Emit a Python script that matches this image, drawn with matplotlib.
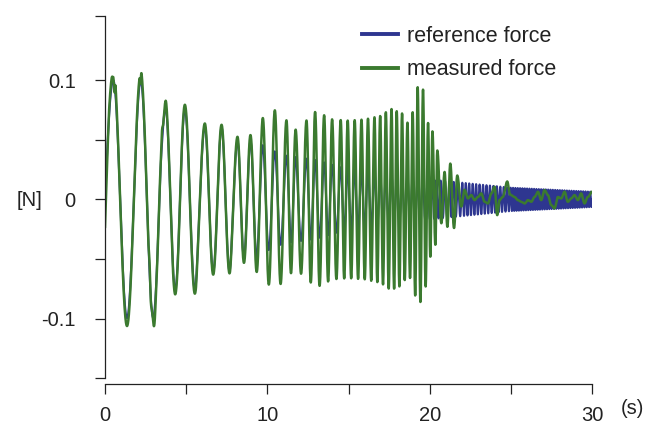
import numpy as np
import matplotlib
matplotlib.use("Agg")
import matplotlib.pyplot as plt

plt.rcParams['font.family'] = ['Liberation Sans', 'DejaVu Sans']

# ---------------------------------------------
# Data
# ---------------------------------------------
# reference force: times of its positive peaks (s) and amplitude envelope
ref_peak_t = [0.51, 2.2, 3.73, 4.92, 6.15, 7.18, 8.16, 8.96, 9.72, 10.46,
              11.18, 11.74, 12.41, 12.94, 13.5, 13.99, 14.52, 14.95, 15.38,
              15.8, 16.2, 16.6, 16.95, 17.3, 17.65, 17.97, 18.3, 18.63,
              18.95, 19.26, 19.57, 19.88]
# beyond 20 s the trace is a solid band: cycle counts estimated
late_t = [22.0, 25.0, 30.0]
late_cycles = [39.2, 53.3, 88.0]

ref_amp_t = [0, 3.3, 3.5, 5.6, 5.8, 7.7, 7.9, 9.3, 10, 11, 13, 14.5, 17,
             19, 22, 25, 30]
ref_amp = [0.1, 0.099, 0.076, 0.075, 0.061, 0.06, 0.049, 0.049, 0.043,
           0.037, 0.033, 0.027, 0.022, 0.018, 0.014, 0.0098, 0.0064]

# measured force: envelope while it follows the reference
meas_amp_t = [0, 3.3, 3.5, 5.6, 5.8, 7.7, 7.9, 9.0, 9.7, 10.5, 11.2, 11.7,
              12.4, 13.0, 14.0, 15.0, 16.0, 17.0, 17.6, 18.3, 18.6, 18.8,
              19.1, 19.26]
meas_amp = [0.107, 0.105, 0.08, 0.079, 0.064, 0.062, 0.052, 0.054, 0.068,
            0.075, 0.066, 0.058, 0.066, 0.074, 0.067, 0.066, 0.067, 0.07,
            0.076, 0.072, 0.064, 0.066, 0.08, 0.094]
meas_start = -0.023

# small wiggles of the measured force in the first cycles
ripple_t = [0.0, 0.40, 0.50, 0.58, 0.65, 0.75, 2.05, 2.12, 2.17, 2.25, 2.35,
            2.65, 2.75, 2.82, 2.9, 3.05, 3.15, 3.4, 3.5, 3.6, 3.75, 3.85, 30]
ripple = [0, 0, -0.004, -0.013, 0.002, 0, 0, 0.0, -0.008, 0.002, 0,
          0, 0.012, 0.002, 0.008, -0.005, 0, 0, 0.008, -0.004, 0.003, 0, 0]

# measured force after ~19.3 s: extrema / wobble points
meas_tail_t = [19.26, 19.43, 19.59, 19.75, 19.9, 20.04, 20.17, 20.35, 20.47,
               20.72, 20.92, 21.09, 21.27, 21.5, 21.7, 21.95, 22.15, 22.36,
               22.56, 22.77, 22.97, 23.18, 23.38, 23.59, 23.8, 24.0, 24.16,
               24.3, 24.5, 24.78, 24.95, 25.23, 25.43, 25.64, 25.85, 26.05,
               26.26, 26.46, 26.67, 26.87, 27.08, 27.28, 27.49, 27.69, 27.9,
               28.1, 28.31, 28.51, 28.72, 28.92, 29.13, 29.33, 29.54, 29.74,
               30.0]
meas_tail = [0.094, -0.086, 0.092, -0.073, 0.064, -0.048, 0.057, -0.038,
             0.041, -0.020, 0.023, -0.023, 0.030, -0.024, 0.020, -0.006,
             0.008, 0.0008, 0.0036, -0.0006, 0.002, 0.005, -0.002, -0.0034,
             0.005, 0.0106, -0.0132, -0.0006, 0.002, 0.015, 0.004, 0.002,
             -0.0006, -0.002, -0.0034, -0.0006, -0.002, 0.002, 0.0064,
             -0.0006, 0.0078, 0.0036, -0.0048, -0.0076, 0.002, 0.0008,
             0.0064, -0.002, 0.0008, 0.0036, -0.0006, 0.005, -0.0034, 0.002,
             0.0064]


def cosine_join(tk, vk, t):
    tk = np.asarray(tk)
    vk = np.asarray(vk)
    i = np.clip(np.searchsorted(tk, t, side='right') - 1, 0, len(tk) - 2)
    u = np.clip((t - tk[i]) / (tk[i + 1] - tk[i]), 0, 1)
    w = (1 - np.cos(np.pi * u)) / 2
    return vk[i] + (vk[i + 1] - vk[i]) * w


# ---------------------------------------------
# Signals
# ---------------------------------------------
t = np.arange(0, 30.0005, 0.002)
cyc_t = [0] + ref_peak_t + late_t
cyc_n = [0] + [k + 0.25 for k in range(len(ref_peak_t))] + late_cycles
phase = np.interp(t, cyc_t, cyc_n)
unit = np.sin(2 * np.pi * phase)
ref = np.interp(t, ref_amp_t, ref_amp) * unit

follow = np.interp(t, meas_amp_t, meas_amp) * unit \
    + np.interp(t, [0, 0.25], [meas_start, 0]) \
    + cosine_join(ripple_t, ripple, t)
meas = np.where(t < meas_tail_t[0], follow, cosine_join(meas_tail_t, meas_tail, t))

# ---------------------------------------------
# Figure
# ---------------------------------------------
fig = plt.figure(figsize=(6.48, 4.26), dpi=100)
ax = fig.add_axes([105 / 648, 1 - 378.3 / 426, 487 / 648, (378.3 - 15.7) / 426])

ax.plot(t, ref, color='#2E3690', lw=1.5, label='reference force')
ax.plot(t, meas, color='#3B7A2F', lw=1.8, label='measured force')

ax.set_xlim(0, 30)
ax.set_ylim(-0.15, 0.154)

for s in ['top', 'right']:
    ax.spines[s].set_visible(False)
ax.spines['bottom'].set_position(('outward', 4.3))
ax.spines['bottom'].set_bounds(0, 30)
ax.spines['left'].set_bounds(-0.15, 0.154)
for s in ['bottom', 'left']:
    ax.spines[s].set_linewidth(0.9)
    ax.spines[s].set_color('#222222')

ax.set_xticks([0, 5, 10, 15, 20, 25, 30])
ax.set_xticklabels(['0', '', '10', '', '20', '', '30'])
ax.set_yticks([-0.15, -0.1, -0.05, 0, 0.05, 0.1, 0.154])
ax.set_yticklabels(['', '-0.1', '', '0', '', '0.1', ''])
ax.tick_params(axis='both', direction='out', length=7, width=0.9,
               color='#222222', labelsize=14.5, labelcolor='#222222')
ax.tick_params(axis='x', pad=9)
ax.tick_params(axis='y', pad=14)

fig.text(30 / 648, 1 - 200 / 426, '[N]', ha='center', va='center',
         fontsize=14.5, color='#222222')
fig.text(632 / 648, 1 - 409 / 426, '(s)', ha='center', va='center',
         fontsize=14.5, color='#222222')

leg = ax.legend(loc='upper left', bbox_to_anchor=(362 / 648, 1 - 25.5 / 426),
                bbox_transform=fig.transFigure, frameon=False, fontsize=15.5,
                handlelength=1.68, handletextpad=0.42, labelspacing=0.6,
                borderpad=0, borderaxespad=0)
for h in leg.get_lines():
    h.set_linewidth(2.8)
for txt in leg.get_texts():
    txt.set_color('#222222')

fig.savefig('out.png', dpi=100)
